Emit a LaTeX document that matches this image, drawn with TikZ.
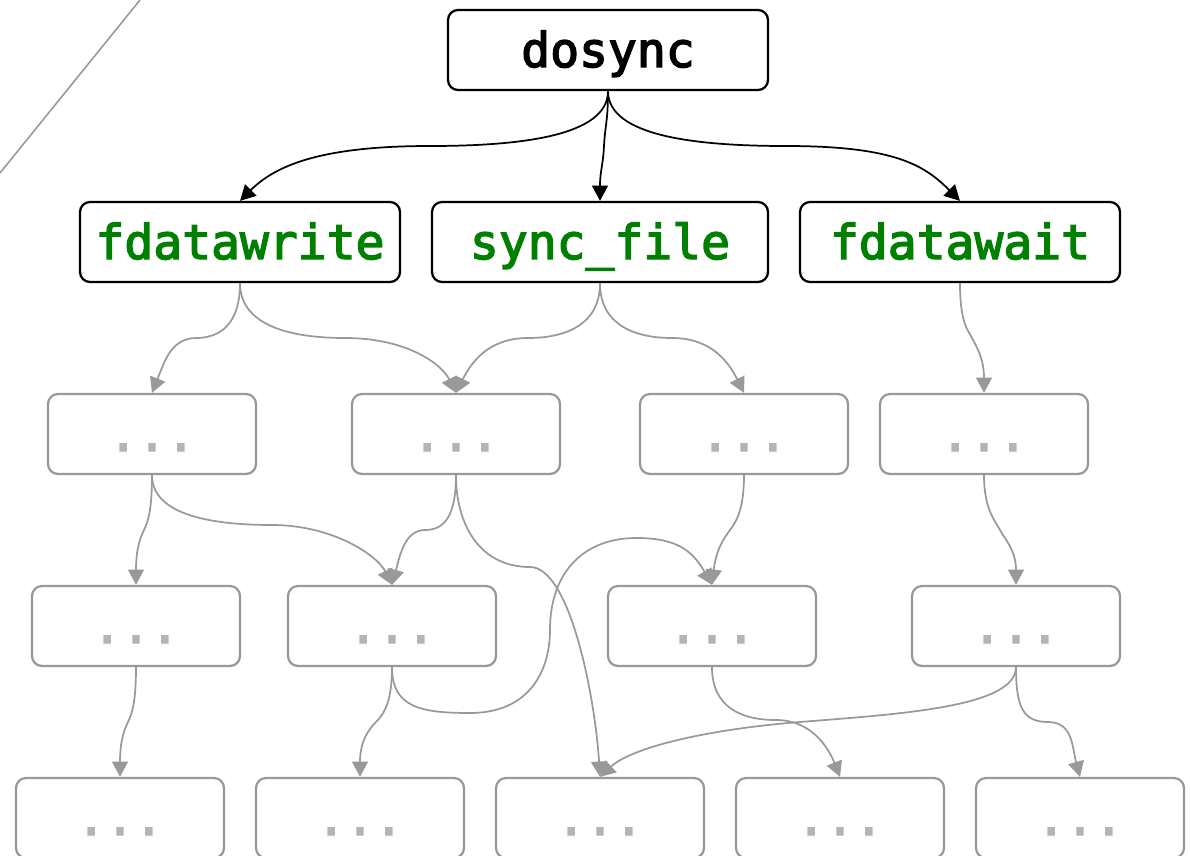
\documentclass[tikz,border=0pt]{standalone}
\usepackage{fontspec}
\newfontfamily\labelfont{DejaVu Sans Mono}[FakeBold=3]
\usetikzlibrary{arrows.meta}

\definecolor{edgegray}{RGB}{153,153,153}
\definecolor{dotgray}{RGB}{179,179,179}
\definecolor{fngreen}{RGB}{0,128,0}

\begin{document}
\begin{tikzpicture}[x=0.75pt, y=-0.75pt,
  box/.style={draw, rounded corners=7.5pt, line width=1.7pt,
    minimum height=60pt, inner sep=0pt,
    font=\labelfont\fontsize{36}{40}\selectfont,
    text height=28pt, text depth=2.5pt},
  fnbox/.style={box, text=fngreen},
  elided/.style={box, draw=edgegray, text=dotgray, minimum width=156pt},
  call/.style={line width=1.3pt, -{Triangle[length=11.5pt,width=12pt]}},
  hidden/.style={call, draw=edgegray},
]
\useasboundingbox (0,0) rectangle (1190,856);
\clip (0,0) rectangle (1190,856);

% stray rule in the upper left corner
\draw[edgegray, line width=1.2pt] (140,0) -- (0,173);

% root and its direct callees
\node[box, minimum width=240pt] (dosync) at (608,50) {dosync};
\node[fnbox, minimum width=240pt] (fw) at (240,242) {fdatawrite};
\node[fnbox, minimum width=252pt] (sf) at (600,242) {sync\_file};
\node[fnbox, minimum width=240pt] (fwait) at (960,242) {fdatawait};

% elided deeper levels
\node[elided] (a1) at (152,434) {...};
\node[elided] (a2) at (456,434) {...};
\node[elided] (a3) at (744,434) {...};
\node[elided] (a4) at (984,434) {...};

\node[elided] (b1) at (136,626) {...};
\node[elided] (b2) at (392,626) {...};
\node[elided] (b3) at (712,626) {...};
\node[elided] (b4) at (1016,626) {...};

\node[elided] (c1) at (120,818) {...};
\node[elided] (c2) at (360,818) {...};
\node[elided] (c3) at (600,818) {...};
\node[elided] (c4) at (840,818) {...};
\node[elided] (c5) at (1080,818) {...};

% calls from the root
\draw[call] (dosync.south) .. controls +(0,45) and +(90,0) .. (430,146)
  .. controls +(-110,0) and +(35,-35) .. (fw.north);
\draw[call] (dosync.south) .. controls +(0,30) and +(1,-20) .. (604,146)
  .. controls +(-1,20) and +(0,-30) .. (sf.north);
\draw[call] (dosync.south) .. controls +(0,45) and +(-90,0) .. (786,146)
  .. controls +(110,0) and +(-35,-35) .. (fwait.north);

% second level
\draw[hidden] (fw.south) .. controls +(0,40) and +(25,0) .. (196,338)
  .. controls +(-25,0) and +(12,-30) .. (a1.north);
\draw[hidden] (fw.south) .. controls +(0,40) and +(-60,0) .. (345,338)
  .. controls +(60,0) and +(-15,-30) .. (a2.north);
\draw[hidden] (sf.south) .. controls +(0,40) and +(40,0) .. (528,338)
  .. controls +(-40,0) and +(15,-30) .. (a2.north);
\draw[hidden] (sf.south) .. controls +(0,40) and +(-40,0) .. (672,338)
  .. controls +(40,0) and +(-15,-30) .. (a3.north);
\draw[hidden] (fwait.south) .. controls +(0,40) and +(-4,-8) .. (972,338)
  .. controls +(4,8) and +(0,-35) .. (a4.north);

% third level
\draw[hidden] (a1.south) .. controls +(0,35) and +(4,-8) .. (144,530)
  .. controls +(-4,8) and +(0,-35) .. (b1.north);
\draw[hidden] (a1.south) .. controls +(0,40) and +(-60,0) .. (272,525)
  .. controls +(60,0) and +(-15,-30) .. (b2.north);
\draw[hidden] (a2.south) .. controls +(0,40) and +(20,0) .. (425,530)
  .. controls +(-20,0) and +(8,-30) .. (b2.north);
\draw[hidden] (a2.south) .. controls +(0,50) and +(-50,0) .. (530,567)
  .. controls +(40,0) and +(-5,-80) .. (c3.north);
\draw[hidden] (a3.south) .. controls +(0,35) and +(6,-8) .. (730,530)
  .. controls +(-6,8) and +(4,-35) .. (b3.north);
\draw[hidden] (a4.south) .. controls +(0,35) and +(-4,-8) .. (1000,530)
  .. controls +(4,8) and +(0,-35) .. (b4.north);

% fourth level
\draw[hidden] (b1.south) .. controls +(0,35) and +(4,-8) .. (128,722)
  .. controls +(-4,8) and +(0,-35) .. (c1.north);
\draw[hidden] (b2.south) .. controls +(0,35) and +(8,-8) .. (376,722)
  .. controls +(-8,8) and +(0,-35) .. (c2.north);
\draw[hidden] (b2.south) .. controls +(0,40) and +(-50,0) .. (470,713)
  .. controls +(60,0) and +(0,40) .. (550,630)
  .. controls +(0,-60) and +(-50,0) .. (636,538)
  .. controls +(40,0) and +(-20,-35) .. (b3.north);
\draw[hidden] (b3.south) .. controls +(0,40) and +(-35,0) .. (776,720)
  .. controls +(35,0) and +(-12,-30) .. (c4.north);
\draw[hidden] (b4.south) .. controls +(0,40) and +(100,-8) .. (800,722)
  .. controls +(-100,8) and +(30,-28) .. (c3.north);
\draw[hidden] (b4.south) .. controls +(0,40) and +(-25,0) .. (1048,722)
  .. controls +(25,0) and +(-8,-30) .. (c5.north);
\end{tikzpicture}
\end{document}
